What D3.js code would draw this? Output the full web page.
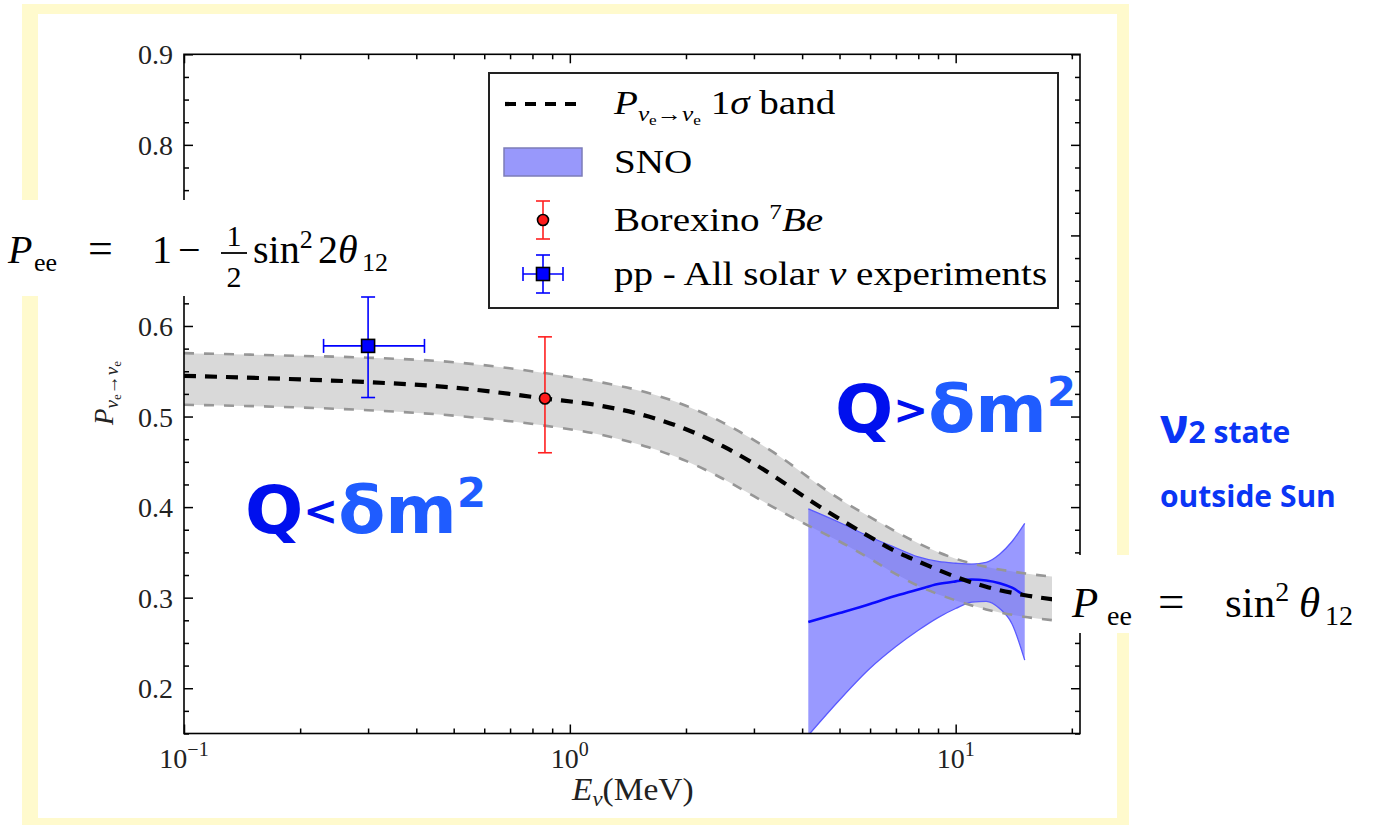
<!DOCTYPE html>
<html>
<head>
<meta charset="utf-8">
<script src="https://cdn.jsdelivr.net/npm/d3@7"></script>
<style>
  html, body { margin: 0; padding: 0; background: #ffffff; }
  svg { display: block; }
</style>
</head>
<body>
<svg id="chart" width="1375" height="825"></svg>
<script>
// ---------- data ----------
// Survival probability band (energy in MeV)
const bandEnergy  = [0.1, 0.2, 0.3, 0.5, 0.86, 1.2, 1.6, 2.0, 2.5, 3.0, 3.5, 4.0, 4.5, 5.0, 6.0, 7.0, 8.0, 10, 12, 15, 18, 21];
const bandCentral = [0.545, 0.541, 0.538, 0.532, 0.520, 0.512, 0.500, 0.486, 0.467, 0.448, 0.430, 0.413, 0.399, 0.387, 0.367, 0.351, 0.340, 0.323, 0.312, 0.303, 0.298, 0.295];
const bandUpper   = [0.570, 0.567, 0.565, 0.560, 0.548, 0.538, 0.526, 0.512, 0.493, 0.474, 0.456, 0.438, 0.422, 0.409, 0.389, 0.373, 0.360, 0.343, 0.334, 0.327, 0.323, 0.321];
const bandLower   = [0.513, 0.510, 0.507, 0.501, 0.490, 0.480, 0.466, 0.451, 0.431, 0.412, 0.396, 0.383, 0.372, 0.362, 0.343, 0.326, 0.313, 0.297, 0.287, 0.279, 0.275, 0.273];

// SNO fit and its uncertainty envelope
const snoEnergy  = [4.15, 5, 6, 7, 8, 9, 10, 11, 12, 13, 14, 15.1];
const snoCentral = [0.273, 0.283, 0.293, 0.302, 0.309, 0.315, 0.318, 0.320, 0.319, 0.316, 0.311, 0.302];
const snoUpper   = [0.398, 0.383, 0.367, 0.355, 0.345, 0.340, 0.338, 0.337, 0.339, 0.348, 0.362, 0.382];
const snoLower   = [0.148, 0.187, 0.222, 0.246, 0.264, 0.278, 0.288, 0.295, 0.296, 0.288, 0.271, 0.231];

// Borexino 7Be measurement
const beEnergy = 0.862;
const beValue  = 0.52;
const beError  = [0.46, 0.588];

// pp from all solar neutrino experiments
const ppEnergy      = 0.30;
const ppEnergyRange = [0.23, 0.42];
const ppValue       = 0.578;
const ppError       = [0.521, 0.632];

// Axis ticks (the 0.7 label sits under the formula box, so it is left blank)
const yTickValues = [0.2, 0.3, 0.4, 0.5, 0.6, 0.7, 0.8, 0.9];
const yTickLabels = ["0.2", "0.3", "0.4", "0.5", "0.6", "", "0.8", "0.9"];
const xTickValues = [0.1, 1, 10];
const xTickExponents = ["\u22121", "0", "1"];

// ---------- layout ----------
const svg = d3.select("#chart");
const serif = "'Liberation Serif', 'Times New Roman', serif";
const plot = { left: 184, right: 1080, top: 54.3, bottom: 733.5 };

const x = d3.scaleLog().domain([0.1, 21]).range([plot.left, plot.right]);
const y = d3.scaleLinear().domain([0.15, 0.9]).range([plot.bottom, plot.top]);

// slide frame
svg.append("rect").attr("x", 22).attr("y", 4).attr("width", 1107).attr("height", 840).attr("fill", "#fffacd");
svg.append("rect").attr("x", 38).attr("y", 14).attr("width", 1079).attr("height", 804).attr("fill", "#ffffff");

svg.append("defs").append("clipPath").attr("id", "plotClip")
  .append("rect").attr("x", plot.left).attr("y", plot.top)
  .attr("width", plot.right - plot.left).attr("height", plot.bottom - plot.top);

const g = svg.append("g").attr("clip-path", "url(#plotClip)");

const band = bandEnergy.map((e, i) => ({ e, c: bandCentral[i], hi: bandUpper[i], lo: bandLower[i] }));
const sno = snoEnergy.map((e, i) => ({ e, c: snoCentral[i], hi: snoUpper[i], lo: snoLower[i] }));

const curve = d3.curveMonotoneX;
const area = d3.area().x(d => x(d.e)).y0(d => y(d.lo)).y1(d => y(d.hi)).curve(curve);
const lineOf = key => d3.line().x(d => x(d.e)).y(d => y(d[key])).curve(curve);

// 1-sigma band
g.append("path").datum(band).attr("d", area).attr("fill", "#d9d9d9");

// SNO envelope
g.append("path").datum(sno).attr("d", area).attr("fill", "#6262ff").attr("fill-opacity", 0.65);
["hi", "lo"].forEach(k => {
  g.append("path").datum(sno).attr("d", lineOf(k)).attr("fill", "none")
    .attr("stroke", "#5a5aff").attr("stroke-width", 1.3);
});
g.append("path").datum(sno).attr("d", lineOf("c")).attr("fill", "none")
  .attr("stroke", "#0a0aff").attr("stroke-width", 2.6);

// band edges and central curve
["hi", "lo"].forEach(k => {
  g.append("path").datum(band).attr("d", lineOf(k)).attr("fill", "none")
    .attr("stroke", "#969696").attr("stroke-width", 2.6).attr("stroke-dasharray", "10,10");
});
g.append("path").datum(band).attr("d", lineOf("c")).attr("fill", "none")
  .attr("stroke", "#000").attr("stroke-width", 4.2).attr("stroke-dasharray", "12,9");

// ---------- error bars ----------
function vErr(parent, cx, y1, y2, color, cap) {
  parent.append("line").attr("x1", cx).attr("x2", cx).attr("y1", y1).attr("y2", y2)
    .attr("stroke", color).attr("stroke-width", 1.6);
  [y1, y2].forEach(v => parent.append("line").attr("x1", cx - cap).attr("x2", cx + cap)
    .attr("y1", v).attr("y2", v).attr("stroke", color).attr("stroke-width", 1.6));
}
function hErr(parent, cy, x1, x2, color, cap) {
  parent.append("line").attr("x1", x1).attr("x2", x2).attr("y1", cy).attr("y2", cy)
    .attr("stroke", color).attr("stroke-width", 1.6);
  [x1, x2].forEach(v => parent.append("line").attr("x1", v).attr("x2", v)
    .attr("y1", cy - cap).attr("y2", cy + cap).attr("stroke", color).attr("stroke-width", 1.6));
}
function redDot(parent, cx, cy) {
  parent.append("circle").attr("cx", cx).attr("cy", cy).attr("r", 5.5)
    .attr("fill", "#ff1a1a").attr("stroke", "#000").attr("stroke-width", 1.6);
}
function blueSquare(parent, cx, cy) {
  parent.append("rect").attr("x", cx - 6.5).attr("y", cy - 6.5).attr("width", 13).attr("height", 13)
    .attr("fill", "#0000ff").attr("stroke", "#000").attr("stroke-width", 1.6);
}

const pts = svg.append("g");
vErr(pts, x(beEnergy), y(beError[1]), y(beError[0]), "#ff2020", 7);
redDot(pts, x(beEnergy), y(beValue));
vErr(pts, x(ppEnergy), y(ppError[1]), y(ppError[0]), "#0000ff", 7);
hErr(pts, y(ppValue), x(ppEnergyRange[0]), x(ppEnergyRange[1]), "#0000ff", 7);
blueSquare(pts, x(ppEnergy), y(ppValue));

// ---------- axes (ticks on all four sides, pointing inward) ----------
const xMinor = [];
[0.1, 1, 10].forEach(d => { for (let k = 2; k <= 9; k++) if (d * k <= 21) xMinor.push(d * k); });
const yMinor = d3.range(0.15, 0.9001, 0.025).filter(v => yTickValues.every(t => Math.abs(t - v) > 1e-6));

function tidy(sel) {
  sel.select(".domain").remove();
  sel.selectAll(".tick line").attr("stroke", "#000").attr("stroke-width", 1.5);
  sel.selectAll(".tick text").remove();
}
const axes = svg.append("g");
axes.append("g").attr("transform", `translate(0,${plot.bottom})`)
  .call(d3.axisTop(x).tickValues(xTickValues).tickSize(9).tickSizeOuter(0)).call(tidy);
axes.append("g").attr("transform", `translate(0,${plot.bottom})`)
  .call(d3.axisTop(x).tickValues(xMinor).tickSize(5).tickSizeOuter(0)).call(tidy);
axes.append("g").attr("transform", `translate(0,${plot.top})`)
  .call(d3.axisBottom(x).tickValues(xTickValues).tickSize(9).tickSizeOuter(0)).call(tidy);
axes.append("g").attr("transform", `translate(0,${plot.top})`)
  .call(d3.axisBottom(x).tickValues(xMinor).tickSize(5).tickSizeOuter(0)).call(tidy);
axes.append("g").attr("transform", `translate(${plot.left},0)`)
  .call(d3.axisRight(y).tickValues(yTickValues).tickSize(9).tickSizeOuter(0)).call(tidy);
axes.append("g").attr("transform", `translate(${plot.left},0)`)
  .call(d3.axisRight(y).tickValues(yMinor).tickSize(5).tickSizeOuter(0)).call(tidy);
axes.append("g").attr("transform", `translate(${plot.right},0)`)
  .call(d3.axisLeft(y).tickValues(yTickValues).tickSize(9).tickSizeOuter(0)).call(tidy);
axes.append("g").attr("transform", `translate(${plot.right},0)`)
  .call(d3.axisLeft(y).tickValues(yMinor).tickSize(5).tickSizeOuter(0)).call(tidy);
axes.append("rect").attr("x", plot.left).attr("y", plot.top)
  .attr("width", plot.right - plot.left).attr("height", plot.bottom - plot.top)
  .attr("fill", "none").attr("stroke", "#000").attr("stroke-width", 1.6);

// tick labels
const yLabelData = yTickValues.map((v, i) => ({ v, label: yTickLabels[i] })).filter(d => d.label);
svg.append("g").selectAll("text").data(yLabelData).join("text")
  .attr("x", plot.left - 11).attr("y", d => y(d.v) + 10)
  .attr("text-anchor", "end").attr("font-family", serif).attr("font-size", 28).attr("fill", "#222")
  .text(d => d.label);

const xl = svg.append("g").selectAll("text").data(xTickValues).join("text")
  .attr("x", d => x(d)).attr("y", 768)
  .attr("text-anchor", "middle").attr("font-family", serif).attr("font-size", 28).attr("fill", "#222");
xl.append("tspan").text("10");
xl.append("tspan").attr("font-size", 20).attr("dy", -12).text((d, i) => xTickExponents[i]);

// rich text helper: parts = [{t, size, italic, dy, x}]
function rich(parent, px, py, parts, opt = {}) {
  const t = parent.append("text")
    .attr("font-family", opt.family || serif).attr("font-size", opt.size || 28)
    .attr("fill", opt.fill || "#000");
  if (opt.stretch) {
    t.attr("transform", `translate(${px},${py}) scale(${opt.stretch},1)`);
  } else {
    t.attr("x", px).attr("y", py);
  }
  if (opt.anchor) t.attr("text-anchor", opt.anchor);
  if (opt.weight) t.attr("font-weight", opt.weight);
  if (opt.transform) t.attr("transform", opt.transform);
  parts.forEach(p => {
    const s = t.append("tspan").text(p.t);
    if (p.size) s.attr("font-size", p.size);
    if (p.italic) s.attr("font-style", "italic");
    if (p.dy) s.attr("dy", p.dy);
    if (p.x != null) s.attr("x", p.x);
    if (p.fill) s.attr("fill", p.fill);
    if (p.weight) s.attr("font-weight", p.weight);
  });
  return t;
}

// x axis title
rich(svg, 572, 800, [
  { t: "E", italic: true },
  { t: "\u03bd", italic: true, size: 21, dy: 6 },
  { t: "(MeV)", dy: -6 }
], { size: 31, fill: "#222", stretch: 1.08 });

// y axis title
rich(svg, 0, 0, [
  { t: "P", italic: true },
  { t: "\u03bd", italic: true, size: 19, dy: 5 },
  { t: "e", size: 13, dy: 3 },
  { t: "\u2192", size: 19, dy: -3 },
  { t: "\u03bd", italic: true, size: 19 },
  { t: "e", size: 13, dy: 3 }
], { size: 27, anchor: "middle", transform: "translate(113,393) rotate(-90)", fill: "#222" });

// ---------- legend ----------
const lg = svg.append("g");
lg.append("rect").attr("x", 489).attr("y", 73).attr("width", 569).attr("height", 235)
  .attr("fill", "#fff").attr("stroke", "#222").attr("stroke-width", 2);
const rowY = [104, 162, 220, 274];
const markX = 543, textX = 614;
lg.append("line").attr("x1", 505).attr("x2", 580).attr("y1", rowY[0]).attr("y2", rowY[0])
  .attr("stroke", "#000").attr("stroke-width", 4.2).attr("stroke-dasharray", "11,9");
lg.append("rect").attr("x", 504).attr("y", rowY[1] - 14).attr("width", 78).attr("height", 28)
  .attr("fill", "#9898fb").attr("stroke", "#7c7cb8").attr("stroke-width", 1.5);
vErr(lg, markX, rowY[2] - 19, rowY[2] + 19, "#ff2020", 7);
redDot(lg, markX, rowY[2]);
vErr(lg, markX, rowY[3] - 19, rowY[3] + 19, "#0000ff", 7);
hErr(lg, rowY[3], markX - 20, markX + 20, "#0000ff", 7);
blueSquare(lg, markX, rowY[3]);

const lsize = 34, lstretch = 1.15;
rich(lg, textX, rowY[0] + 10, [
  { t: "P", italic: true },
  { t: "\u03bd", italic: true, size: 22, dy: 7 },
  { t: "e", size: 15, dy: 4 },
  { t: "\u2192", size: 22, dy: -4 },
  { t: "\u03bd", italic: true, size: 22 },
  { t: "e", size: 15, dy: 4 },
  { t: " 1", dy: -11 },
  { t: "\u03c3", italic: true },
  { t: " band" }
], { size: lsize, stretch: lstretch });
rich(lg, textX, rowY[1] + 11, [{ t: "SNO" }], { size: lsize, stretch: lstretch });
rich(lg, textX, rowY[2] + 11, [
  { t: "Borexino " },
  { t: "7", size: 22, dy: -12 },
  { t: "Be", italic: true, dy: 12 }
], { size: lsize, stretch: lstretch });
rich(lg, textX, rowY[3] + 11, [
  { t: "pp - All solar " },
  { t: "\u03bd", italic: true },
  { t: " experiments" }
], { size: lsize, stretch: lstretch });

// ---------- annotations ----------
// white boxes behind the formulas
svg.append("rect").attr("x", 0).attr("y", 200).attr("width", 420).attr("height", 96).attr("fill", "#fff");
svg.append("rect").attr("x", 1052).attr("y", 555).attr("width", 323).attr("height", 78).attr("fill", "#fff");

// Pee = 1 - 1/2 sin^2 2θ12
const f1 = svg.append("g");
rich(f1, 8, 263, [
  { t: "P", italic: true },
  { t: "ee", size: 26, dy: 8, x: 34 },
  { t: "=", dy: -8, x: 88, size: 44 },
  { t: "1", x: 152 },
  { t: "\u2212", x: 178 }
], { size: 40 });
rich(f1, 234, 246, [{ t: "1" }], { size: 30, anchor: "middle" });
f1.append("line").attr("x1", 221).attr("x2", 247).attr("y1", 253).attr("y2", 253)
  .attr("stroke", "#000").attr("stroke-width", 1.8);
rich(f1, 234, 287, [{ t: "2" }], { size: 30, anchor: "middle" });
rich(f1, 253, 263, [
  { t: "sin" },
  { t: "2", size: 26, dy: -15 },
  { t: "2", dy: 15, x: 318 },
  { t: "\u03b8", italic: true },
  { t: "12", size: 26, dy: 8, x: 362 }
], { size: 40 });

// Pee = sin^2 θ12
rich(svg, 1072, 617, [
  { t: "P", italic: true },
  { t: "ee", size: 28, dy: 8, x: 1107 },
  { t: "=", dy: -8, x: 1158, size: 47 },
  { t: "sin", x: 1225 },
  { t: "2", size: 28, dy: -16 },
  { t: "\u03b8", italic: true, dy: 16, x: 1299 },
  { t: "12", size: 28, dy: 8, x: 1325 }
], { size: 43 });

// regime labels
const hand = "'Comic Sans MS', 'DejaVu Sans', sans-serif";
rich(svg, 245, 533, [
  { t: "Q", fill: "#0010ee" },
  { t: "<", size: 40, fill: "#0010ee", dy: -8 },
  { t: "\u03b4m", fill: "#1f5cff", dy: 8 },
  { t: "2", size: 40, dy: -26, fill: "#1f5cff" }
], { family: hand, size: 66, weight: "bold", stretch: 1.04 });
rich(svg, 835, 432, [
  { t: "Q", fill: "#0010ee" },
  { t: ">", size: 40, fill: "#0010ee", dy: -8 },
  { t: "\u03b4m", fill: "#1f5cff", dy: 8 },
  { t: "2", size: 40, dy: -26, fill: "#1f5cff" }
], { family: hand, size: 66, weight: "bold", stretch: 1.04 });

// mass eigenstate note
const sans = "'Open Sans', 'Liberation Sans', sans-serif";
rich(svg, 1160, 443, [
  { t: "\u03bd", size: 48 },
  { t: "2 state", size: 30 }
], { family: sans, weight: "bold", fill: "#0a35f5" });
rich(svg, 1160, 507, [{ t: "outside Sun" }], { family: sans, weight: "bold", size: 30, fill: "#0a35f5" });
</script>
</body>
</html>
